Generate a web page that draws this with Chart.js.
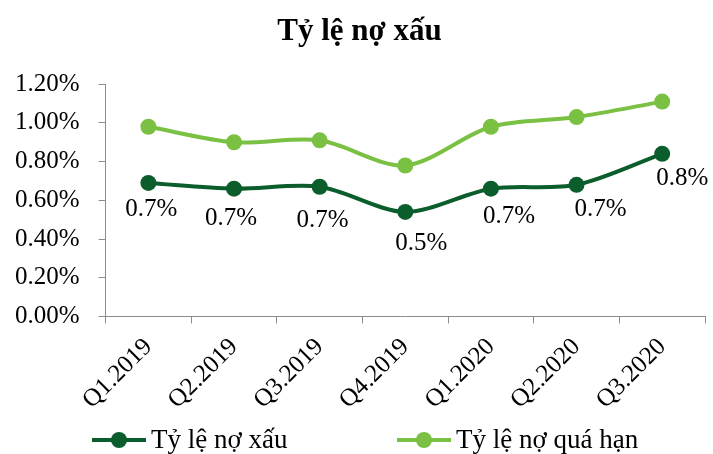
<!DOCTYPE html>
<html>
<head>
<meta charset="utf-8">
<script src="https://cdn.jsdelivr.net/npm/chart.js@4/dist/chart.umd.min.js"></script>
<style>
  html, body { margin: 0; padding: 0; background: #ffffff; }
  #wrap { width: 713px; height: 454px; }
</style>
</head>
<body>
<div id="wrap"><canvas id="c" width="713" height="454"></canvas></div>
<script>
// Quarterly bad-debt and overdue-debt ratios (%)
const quarters = ['Q1.2019', 'Q2.2019', 'Q3.2019', 'Q4.2019', 'Q1.2020', 'Q2.2020', 'Q3.2020'];
const badDebtRatio = [0.69, 0.66, 0.67, 0.54, 0.66, 0.68, 0.84];
const overdueRatio = [0.98, 0.90, 0.91, 0.78, 0.98, 1.03, 1.11];
const percentTicks = [0, 0.2, 0.4, 0.6, 0.8, 1.0, 1.2];

const seriesNames = ['Tỷ lệ nợ xấu', 'Tỷ lệ nợ quá hạn'];
const DARK = '#0b5d2c';
const LIGHT = '#7ac143';
const AXIS = '#8c8c8c';
const FONT = 'Liberation Serif';

// Value labels under the bad-debt line, one decimal
const valueLabels = {
  id: 'valueLabels',
  afterDatasetsDraw(chart, args, opts) {
    const meta = chart.getDatasetMeta(opts.datasetIndex);
    const data = chart.data.datasets[opts.datasetIndex].data;
    const ctx = chart.ctx;
    ctx.save();
    ctx.font = opts.size + 'px "' + FONT + '"';
    ctx.fillStyle = '#000';
    ctx.textAlign = 'center';
    ctx.textBaseline = 'middle';
    meta.data.forEach((pt, i) => {
      const off = opts.offsets[i];
      ctx.fillText(data[i].toFixed(1) + '%', pt.x + off[0], pt.y + off[1]);
    });
    ctx.restore();
  }
};

// Bottom legend: line-with-marker swatch followed by the series name
const lineLegend = {
  id: 'lineLegend',
  afterDraw(chart, args, opts) {
    const ctx = chart.ctx;
    ctx.save();
    ctx.font = opts.size + 'px "' + FONT + '"';
    ctx.textBaseline = 'middle';
    ctx.textAlign = 'left';
    chart.data.datasets.forEach((ds, i) => {
      const x = opts.starts[i];
      const y = opts.y;
      ctx.strokeStyle = ds.borderColor;
      ctx.lineWidth = ds.borderWidth;
      ctx.beginPath();
      ctx.moveTo(x, y);
      ctx.lineTo(x + opts.swatch, y);
      ctx.stroke();
      ctx.fillStyle = ds.pointBackgroundColor;
      ctx.beginPath();
      ctx.arc(x + opts.swatch / 2, y, ds.pointRadius, 0, Math.PI * 2);
      ctx.fill();
      ctx.fillStyle = '#000';
      ctx.fillText(ds.label, x + opts.swatch + 5, y + 1);
    });
    ctx.restore();
  }
};

// Nudge the title block sideways after layout
const titleShift = {
  id: 'titleShift',
  afterLayout(chart, args, opts) {
    const tb = chart.titleBlock;
    if (tb) {
      tb.left += opts.dx;
      tb.right += opts.dx;
    }
  }
};

new Chart(document.getElementById('c'), {
  type: 'line',
  data: {
    labels: quarters,
    datasets: [
      {
        label: seriesNames[0],
        data: badDebtRatio,
        borderColor: DARK,
        backgroundColor: DARK,
        pointBackgroundColor: DARK,
        pointBorderColor: DARK,
        borderWidth: 4,
        pointRadius: 8,
        pointBorderWidth: 0,
        tension: 0.3
      },
      {
        label: seriesNames[1],
        data: overdueRatio,
        borderColor: LIGHT,
        backgroundColor: LIGHT,
        pointBackgroundColor: LIGHT,
        pointBorderColor: LIGHT,
        borderWidth: 4,
        pointRadius: 8,
        pointBorderWidth: 0,
        tension: 0.3
      }
    ]
  },
  options: {
    responsive: false,
    animation: false,
    devicePixelRatio: 1,
    layout: { padding: { left: -4, right: 8, top: 0, bottom: 30 } },
    plugins: {
      legend: { display: false },
      tooltip: { enabled: false },
      title: {
        display: true,
        text: 'Tỷ lệ nợ xấu',
        color: '#000',
        font: { family: FONT, size: 31, weight: 'bold' },
        padding: { top: 13, bottom: 34 }
      },
      titleShift: { dx: 9 },
      valueLabels: {
        datasetIndex: 0,
        size: 25,
        offsets: [[3, 27], [-3, 30], [3, 34], [16, 32], [18, 28], [24, 25], [20, 25]]
      },
      lineLegend: {
        size: 27,
        y: 440,
        swatch: 54,
        starts: [92, 397]
      }
    },
    scales: {
      x: {
        offset: true,
        border: { color: AXIS, width: 1 },
        grid: { offset: true, drawOnChartArea: false, drawTicks: true, tickLength: 7, color: AXIS },
        ticks: {
          color: '#000',
          font: { family: FONT, size: 25 },
          minRotation: 45,
          maxRotation: 45,
          padding: 9,
          autoSkip: false
        }
      },
      y: {
        min: 0,
        max: 1.2,
        afterBuildTicks(scale) {
          scale.ticks = percentTicks.map(v => ({ value: v }));
        },
        border: { color: AXIS, width: 1 },
        grid: { drawOnChartArea: false, drawTicks: true, tickLength: 7, color: AXIS },
        ticks: {
          color: '#000',
          font: { family: FONT, size: 25 },
          padding: 19,
          callback: v => v.toFixed(2) + '%'
        }
      }
    }
  },
  plugins: [valueLabels, lineLegend, titleShift]
});
</script>
</body>
</html>
